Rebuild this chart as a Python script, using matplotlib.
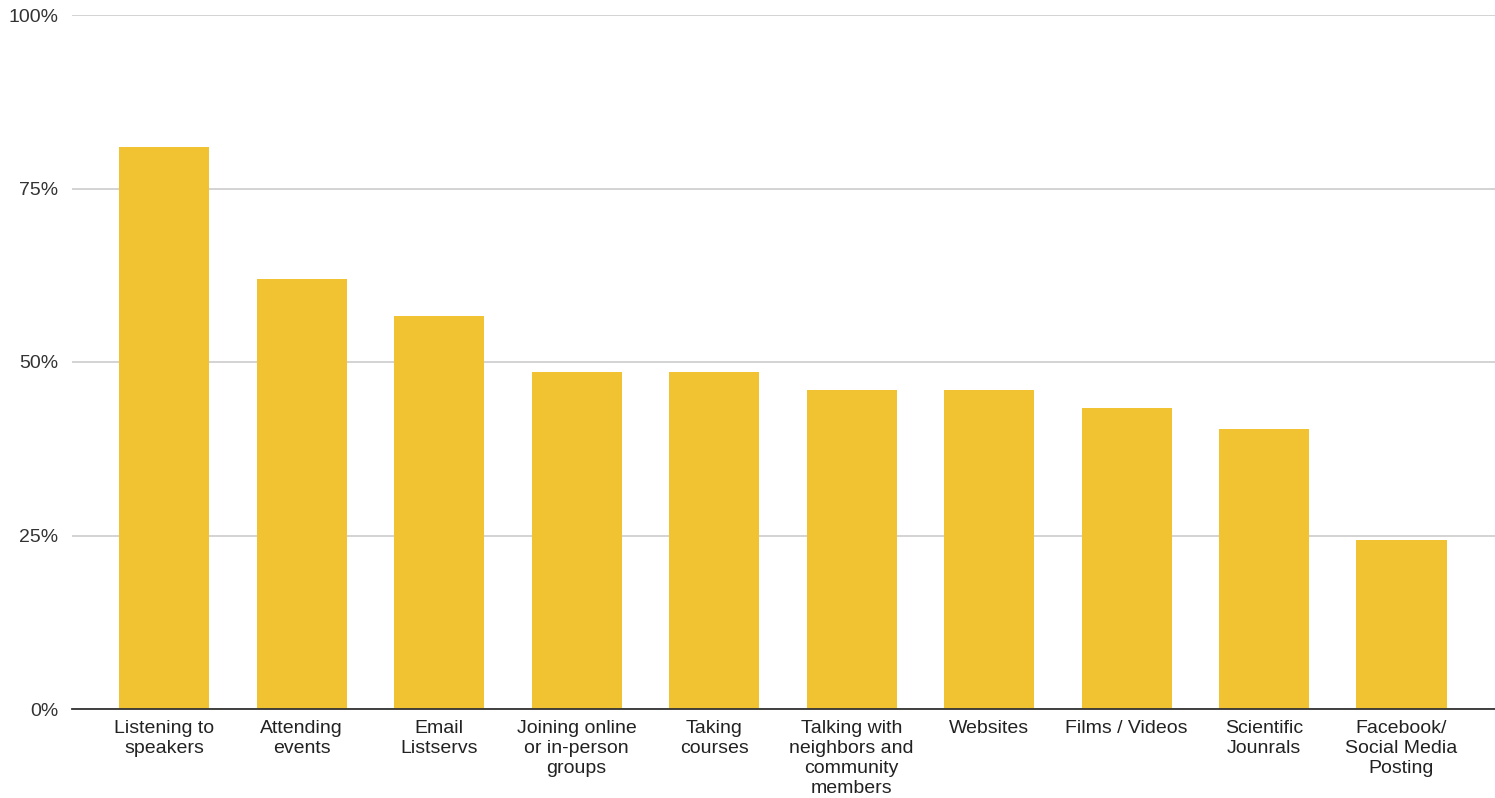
import matplotlib.pyplot as plt
from matplotlib.ticker import PercentFormatter

plt.rcParams['font.family'] = ['Liberation Sans', 'DejaVu Sans']

categories = ['Listening to\nspeakers', 'Attending\nevents', 'Email\nListservs',
              'Joining online\nor in-person\ngroups', 'Taking\ncourses',
              'Talking with\nneighbors and\ncommunity\nmembers', 'Websites',
              'Films / Videos', 'Scientific\nJounrals', 'Facebook/\nSocial Media\nPosting']
values = [81.0, 62.0, 56.7, 48.5, 48.5, 45.9, 45.9, 43.3, 40.4, 24.3]
yticks = [0, 25, 50, 75, 100]

fig = plt.figure(figsize=(14.95, 7.98), dpi=100)
ax = fig.add_axes([72 / 1495, 1 - 709 / 798, 1423 / 1495, 694 / 798])

x = range(len(categories))
ax.bar(x, values, width=0.655, color='#F1C232', zorder=2)

ax.set_ylim(0, 100)
ax.set_xlim(-0.67, len(categories) - 1 + 0.68)
ax.set_yticks(yticks)
ax.yaxis.set_major_formatter(PercentFormatter(decimals=0))
ax.grid(axis='y', color='#CCCCCC', linewidth=1.2, zorder=0)
ax.set_xticks(list(x))
ax.set_xticklabels(categories, fontsize=14, color='#222222', linespacing=1.22)

for s in ['top', 'right', 'left']:
    ax.spines[s].set_visible(False)
ax.spines['bottom'].set_color('#333333')
ax.spines['bottom'].set_linewidth(1.3)
ax.spines['bottom'].set_zorder(3)
ax.tick_params(axis='x', length=0, pad=8)
ax.tick_params(axis='y', length=0, pad=10, labelsize=14, labelcolor='#333333')

fig.savefig('out.png', dpi=100)
